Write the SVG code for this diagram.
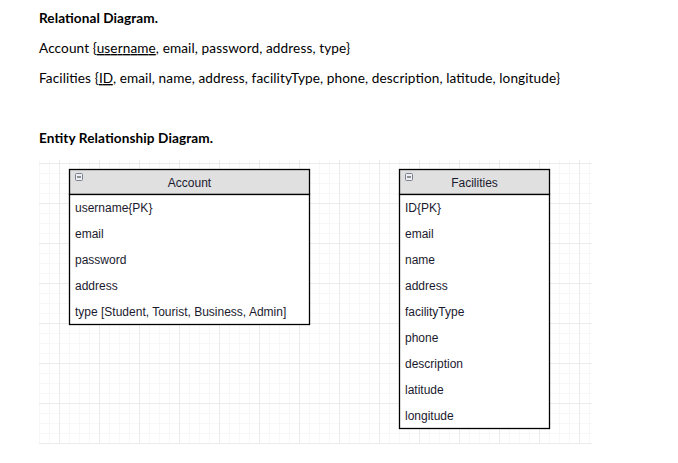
<svg xmlns="http://www.w3.org/2000/svg" width="678" height="463" viewBox="0 0 678 463">
<style>
.doc{font-family:Lato,"Open Sans","Liberation Sans",sans-serif;font-size:13.6px;fill:#000}
.b{font-weight:bold}
.u{text-decoration:underline}
.box{fill:#fff;stroke:#000;stroke-width:1.3}
.hdr{fill:#e0e0e0;stroke:#000;stroke-width:1.3}
.t{font-family:"Liberation Sans",Arial,sans-serif;font-size:12px;fill:#1a1a2e}
.ht{font-family:"Liberation Sans",Arial,sans-serif;font-size:12px;fill:#1a1a2e;text-anchor:middle}
.ico{fill:#eef0f4;stroke:#7a8090;stroke-width:1}
</style>
<defs>
<pattern id="grid" patternUnits="userSpaceOnUse" x="19" y="3" width="40" height="40">
<path d="M10.5 0V40M20.5 0V40M30.5 0V40M0 10.5H40M0 20.5H40M0 30.5H40" stroke="#f7f7f7" stroke-width="1" fill="none"/>
<path d="M0.5 0V40M0 0.5H40" stroke="#ebebeb" stroke-width="1" fill="none"/>
</pattern>
<g id="minus"><rect class="ico" x="0.5" y="0.5" width="7" height="7" rx="1"/><path d="M2 4H6" stroke="#333" stroke-width="1"/></g>
</defs>
<rect width="678" height="463" fill="#fff"/>
<text class="doc b" x="39" y="23" textLength="119">Relational Diagram.</text>
<text class="doc" x="39" y="53" textLength="311">Account {<tspan class="u">username</tspan>, email, password, address, type}</text>
<text class="doc" x="39" y="83" textLength="521">Facilities {<tspan class="u">ID</tspan>, email, name, address, facilityType, phone, description, latitude, longitude}</text>
<text class="doc b" x="39" y="143" textLength="174">Entity Relationship Diagram.</text>
<rect x="39" y="160" width="553" height="284" fill="url(#grid)"/>
<g id="connectors"></g>
<g id="account">
<rect class="hdr" x="69.5" y="169.5" width="240" height="25"/>
<rect class="box" x="69.5" y="194.5" width="240" height="130"/>
<use href="#minus" x="75" y="173"/>
<text class="ht" x="189.5" y="187">Account</text>
<text class="t" x="75" y="212">username{PK}</text>
<text class="t" x="75" y="238">email</text>
<text class="t" x="75" y="264">password</text>
<text class="t" x="75" y="290">address</text>
<text class="t" x="75" y="316">type [Student, Tourist, Business, Admin]</text>
</g>
<g id="facilities">
<rect class="hdr" x="399.5" y="169.5" width="150" height="25"/>
<rect class="box" x="399.5" y="194.5" width="150" height="234"/>
<use href="#minus" x="405" y="173"/>
<text class="ht" x="474.5" y="187">Facilities</text>
<text class="t" x="405" y="212">ID{PK}</text>
<text class="t" x="405" y="238">email</text>
<text class="t" x="405" y="264">name</text>
<text class="t" x="405" y="290">address</text>
<text class="t" x="405" y="316">facilityType</text>
<text class="t" x="405" y="342">phone</text>
<text class="t" x="405" y="368">description</text>
<text class="t" x="405" y="394">latitude</text>
<text class="t" x="405" y="420">longitude</text>
</g>
</svg>
